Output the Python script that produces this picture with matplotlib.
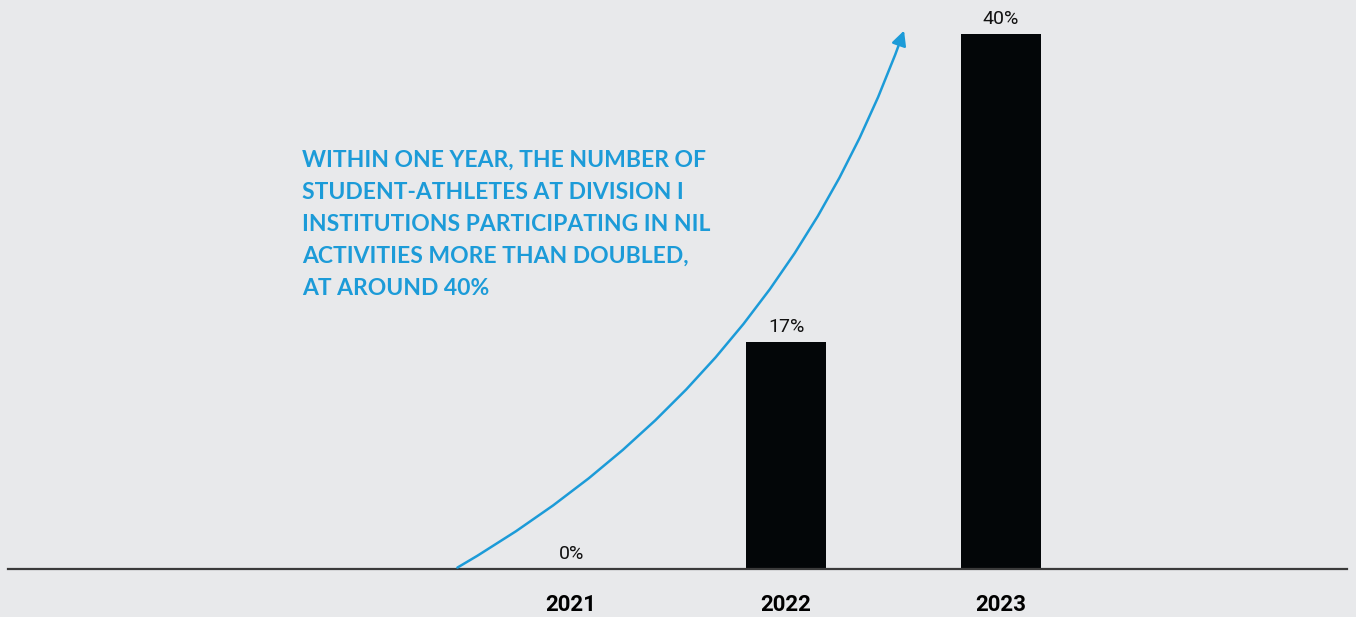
import matplotlib
matplotlib.use("Agg")
from matplotlib import pyplot as plt
from matplotlib.patches import FancyArrowPatch

# data
years = ["2021", "2022", "2023"]
shares = [0, 17, 40]
value_labels = ["0%", "17%", "40%"]
note = ("WITHIN ONE YEAR, THE NUMBER OF\n"
        "STUDENT-ATHLETES AT DIVISION I\n"
        "INSTITUTIONS PARTICIPATING IN NIL\n"
        "ACTIVITIES MORE THAN DOUBLED,\n"
        "AT AROUND 40%")

bg = "#e8e9eb"
blue = "#1c9bd8"
label_font = ["Liberation Sans Narrow", "Roboto", "DejaVu Sans"]

W, H = 1356, 617
fig = plt.figure(figsize=(W / 100, H / 100), dpi=100)
fig.patch.set_facecolor(bg)

# axes placed in pixel fractions: baseline at y=569 px from top
left, right, base = 8, 1347, 569
ax = fig.add_axes([left / W, (H - base) / H, (right - left) / W, base / H])
ax.set_facecolor(bg)

x = list(range(len(years)))
ax.bar(x, shares, width=0.372, color="#030608", zorder=2)

ax.set_xlim(-2.619, 3.609)
ax.set_ylim(0, 42.54)

for xi, v, lab in zip(x, shares, value_labels):
    ax.text(xi, v + 0.45, lab, ha="center", va="bottom", fontsize=14,
            color="#111111", family=label_font)

for s in ["top", "right", "left"]:
    ax.spines[s].set_visible(False)
ax.spines["bottom"].set_color("#3a3a3a")
ax.spines["bottom"].set_linewidth(1.6)
ax.set_yticks([])
ax.set_xticks(x)
ax.set_xticklabels(years, fontsize=16, fontweight="bold", family=label_font)
ax.tick_params(axis="x", length=0, pad=18)

# curved arrow
arr = FancyArrowPatch((-0.54, 0), (1.553, 40.45), connectionstyle="arc3,rad=0.185",
                      arrowstyle="-|>", mutation_scale=22, color=blue, lw=1.8,
                      clip_on=False, zorder=3)
ax.add_patch(arr)

fig.text(302 / W, 1 - 150 / H, note, ha="left", va="top", color=blue,
         fontsize=16.5, fontweight="bold", family=["Lato", "DejaVu Sans"],
         linespacing=1.65)

fig.savefig("out.png", dpi=100, facecolor=bg)
